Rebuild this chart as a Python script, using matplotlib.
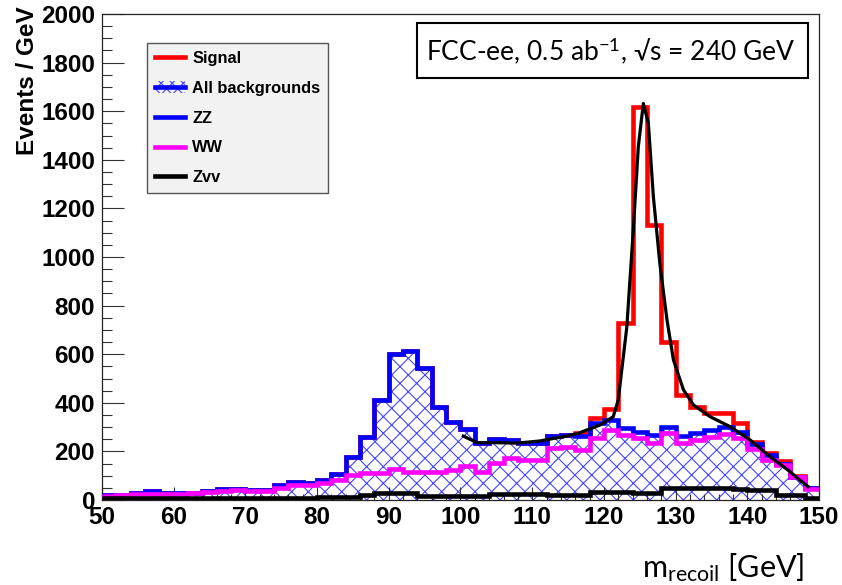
import matplotlib
matplotlib.use("Agg")
import matplotlib.pyplot as plt
import numpy as np
from matplotlib.lines import Line2D
from matplotlib.patches import Patch, Rectangle
from matplotlib.ticker import MultipleLocator

# ---------------- data ----------------
edges = np.arange(50, 152, 2)  # 2 GeV bins, 50..150

all_backgrounds = [20, 22, 28, 35, 27, 29, 30, 36, 44, 44,
                   42, 40, 60, 75, 70, 82, 107, 176, 259, 412,
                   601, 615, 542, 384, 322, 294, 233, 250, 246, 236,
                   236, 264, 266, 265, 316, 329, 296, 281, 267, 302,
                   263, 274, 288, 302, 281, 232, 185, 150, 95, 48]

ww = [18, 20, 25, 25, 24, 24, 28, 33, 36, 40,
      37, 38, 49, 63, 63, 70, 84, 103, 112, 112,
      126, 117, 117, 117, 125, 139, 117, 153, 173, 164,
      164, 215, 217, 205, 255, 288, 267, 255, 234, 274,
      234, 247, 260, 271, 255, 210, 165, 144, 95, 45]

zvv = [8, 8, 8, 8, 8, 8, 8, 8, 8, 8,
       8, 8, 10, 10, 10, 12, 12, 12, 20, 29,
       29, 29, 18, 18, 18, 18, 18, 25, 25, 25,
       25, 22, 22, 22, 34, 34, 34, 30, 30, 50,
       50, 50, 50, 50, 45, 40, 40, 22, 22, 10]

signal = [0, 0, 0, 0, 0, 0, 0, 0, 0, 0,
          0, 0, 0, 0, 0, 0, 0, 0, 0, 0,
          0, 0, 0, 0, 0, 0, 0, 0, 0, 0,
          0, 0, 0, 10, 20, 46, 432, 1338, 865, 350,
          169, 110, 69, 55, 35, 8, 8, 10, 5, 0]

fit_x = [100.4, 102.3, 104.6, 107.9, 111.1, 114.8, 116.4, 117.6, 119.5, 121.3,
         122.0, 123.2, 124.1, 124.8, 125.5, 126.2, 126.9, 127.8, 128.8, 129.7,
         131.1, 132.5, 134.8, 137.6, 140.4, 143.2, 146.0, 147.3, 148.5]
fit_y = [263, 236, 236, 234, 243, 263, 274, 288, 309, 343,
         412, 713, 1111, 1454, 1632, 1550, 1248, 974, 741, 576,
         453, 391, 343, 302, 247, 178, 116, 82, 55]

legend_labels = ["Signal", "All backgrounds", "ZZ", "WW", "Zvv"]

# ---------------- style ----------------
W, H = 842, 585
plt.rcParams["mathtext.fontset"] = "custom"
plt.rcParams["mathtext.rm"] = "Lato"
plt.rcParams["mathtext.it"] = "Lato:italic"
plt.rcParams["mathtext.bf"] = "Lato:bold"
plt.rcParams["hatch.linewidth"] = 0.8

fig = plt.figure(figsize=(W / 100, H / 100), dpi=100)
ax_l, ax_r, ax_t, ax_b = 102, 819, 14, 500
ax = fig.add_axes([ax_l / W, 1 - ax_b / H, (ax_r - ax_l) / W, (ax_b - ax_t) / H])

bkg = np.array(all_backgrounds, dtype=float)
tot = bkg + np.array(signal, dtype=float)

lw = 3.3
hatch_col = "#4646ff"
# hatched area of all backgrounds
ax.fill_between(edges, np.r_[bkg, bkg[-1]], step="post", facecolor="none",
                edgecolor=hatch_col, hatch="xx", linewidth=0, zorder=1)
ax.stairs(tot, edges, color="#ff0000", linewidth=lw, baseline=None, zorder=2)
ax.stairs(bkg, edges, color="#0000ff", linewidth=lw, baseline=None, zorder=3)
ax.stairs(ww, edges, color="#ff00ff", linewidth=lw, baseline=None, zorder=4)
ax.stairs(zvv, edges, color="black", linewidth=lw, baseline=None, zorder=5)
ax.plot(fit_x, fit_y, color="black", linewidth=2.3, zorder=6)

ax.set_xlim(50, 150)
ax.set_ylim(0, 2000)
ax.xaxis.set_major_locator(MultipleLocator(10))
ax.xaxis.set_minor_locator(MultipleLocator(2))
ax.yaxis.set_major_locator(MultipleLocator(200))
ax.yaxis.set_minor_locator(MultipleLocator(50))
ax.tick_params(axis="both", which="both", direction="in", top=False, right=False,
               width=0.8, color="#333333")
ax.tick_params(axis="x", which="major", length=9.4, pad=4.5)
ax.tick_params(axis="x", which="minor", length=4.3)
ax.tick_params(axis="y", which="major", length=15.8, pad=5)
ax.tick_params(axis="y", which="minor", length=7.2)
for lab in ax.get_xticklabels() + ax.get_yticklabels():
    lab.set_fontfamily("Liberation Sans")
    lab.set_fontweight("bold")
    lab.set_fontsize(17.5)
for sp in ax.spines.values():
    sp.set_linewidth(0.9)
    sp.set_color("#222222")

# y axis title
fig.text(28 / W, 1 - 6 / H, "Events / GeV", rotation=90, ha="center", va="top",
         fontsize=17.5, fontweight="bold", family="Liberation Sans")

# x axis title
fig.text(804 / W, 1 - 577 / H, r"m$_{\mathregular{recoil}}$ [GeV]", ha="right",
         va="baseline", fontsize=22, family="Lato")

# annotation box
bx0, bx1, by0, by1 = 417, 808, 22.7, 78.3
ax.add_patch(Rectangle(((bx0 - ax_l) / (ax_r - ax_l), (ax_b - by1) / (ax_b - ax_t)),
                       (bx1 - bx0) / (ax_r - ax_l), (by1 - by0) / (ax_b - ax_t),
                       transform=ax.transAxes, facecolor="white", edgecolor="black",
                       linewidth=1.5, zorder=10))
ax.text((610.5 - ax_l) / (ax_r - ax_l), (ax_b - 60) / (ax_b - ax_t),
        "FCC-ee, 0.5 ab$^{\\mathregular{-1}}$, \u221As = 240 GeV",
        transform=ax.transAxes, ha="center", va="baseline", fontsize=19,
        family="Lato", zorder=11)

# legend
handles = [
    Line2D([], [], color="#ff0000", linewidth=lw),
    (Patch(facecolor="none", edgecolor=hatch_col, hatch="xxx", linewidth=0),
     Line2D([], [], color="#0000ff", linewidth=lw)),
    Line2D([], [], color="#0000ff", linewidth=lw),
    Line2D([], [], color="#ff00ff", linewidth=lw),
    Line2D([], [], color="black", linewidth=lw),
]
leg = ax.legend(handles, legend_labels, loc="upper left",
                bbox_to_anchor=((147 - ax_l) / (ax_r - ax_l), (ax_b - 43) / (ax_b - ax_t)),
                borderaxespad=0, fancybox=False, framealpha=1, facecolor="#f2f2f2",
                edgecolor="#555555", handlelength=1.8, handletextpad=0.45,
                labelspacing=0.9, borderpad=0.5,
                prop={"family": "Liberation Sans", "weight": "bold", "size": 11.8})
leg.get_frame().set_linewidth(1.0)
leg.set_zorder(12)

fig.savefig("out.png", dpi=100)
